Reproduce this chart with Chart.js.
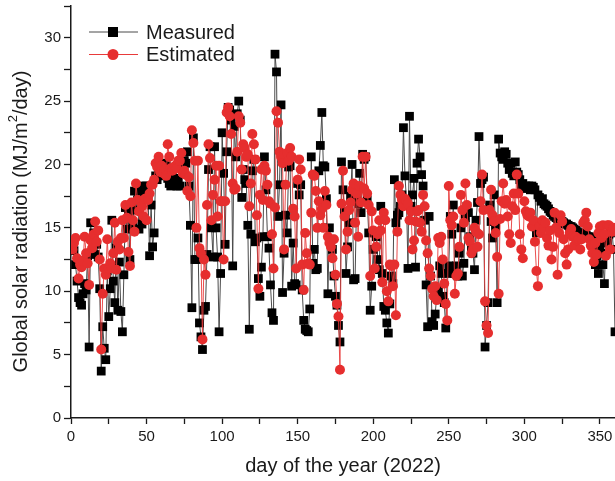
<!DOCTYPE html>
<html>
<head>
<meta charset="utf-8">
<title>Global solar radiation 2022</title>
<script src="https://cdn.jsdelivr.net/npm/chart.js@4.4.0/dist/chart.umd.min.js"></script>
<style>
  html, body { margin: 0; padding: 0; background: #fff; }
  #wrap { width: 615px; height: 481px; }
</style>
</head>
<body>
<div id="wrap"><canvas id="radChart" width="615" height="481"></canvas></div>
<script>
// daily global solar radiation, MJ/m2/day, day 1 .. 365
const measured = [
  13.5, 13.2, 12.1, 10.8, 9.5, 9.1, 8.9, 9.8, 10.6, 10.1,
  12.8, 5.6, 15.4, 13.2, 14.6, 12.9, 13.7, 12.7, 10.2, 3.7,
  7.2, 5.5, 4.6, 11.6, 8.0, 10.2, 15.6, 10.8, 9.1, 13.4,
  8.5, 12.3, 8.4, 6.8, 11.3, 16.6, 14.9, 16.2, 12.5, 16.8,
  15.1, 17.9, 16.4, 17.2, 14.9, 17.9, 15.3, 18.3, 17.6, 18.3,
  17.6, 12.8, 16.8, 13.5, 14.6, 19.1, 18.8, 19.5, 19.6, 19.1,
  20.1, 19.7, 19.9, 18.9, 18.5, 18.3, 19.2, 18.9, 18.4, 18.3,
  18.8, 18.3, 19.9, 20.1, 20.3, 20.1, 21.0, 18.3, 15.2, 8.7,
  22.1, 12.5, 12.5, 14.2, 7.5, 6.4, 5.4, 8.5, 8.8, 12.9,
  19.6, 21.4, 15.0, 12.7, 21.4, 15.0, 12.7, 6.8, 11.4, 22.5,
  19.3, 13.7, 21.0, 24.5, 24.3, 23.5, 12.0, 23.0, 20.6, 24.0,
  25.0, 23.5, 17.4, 19.6, 18.8, 18.5, 15.2, 7.0, 14.5, 19.5,
  20.4, 13.9, 14.2, 11.0, 9.6, 11.9, 14.3, 20.6, 18.0, 14.3,
  13.4, 10.5, 8.3, 7.7, 28.7, 27.3, 15.9, 18.4, 24.7, 9.9,
  13.0, 16.0, 14.6, 19.8, 19.9, 10.4, 13.8, 10.6, 10.5, 18.5,
  17.6, 18.4, 10.1, 7.7, 7.0, 6.9, 6.8, 8.6, 20.6, 12.2,
  13.3, 11.7, 11.8, 19.5, 21.5, 24.1, 19.9, 19.8, 17.3, 9.8,
  15.0, 14.1, 13.3, 11.2, 9.6, 8.9, 7.3, 6.0, 20.2, 18.0,
  16.3, 11.4, 13.5, 15.4, 17.5, 20.0, 10.9, 11.0, 17.2, 16.9,
  19.3, 16.2, 20.8, 20.4, 20.6, 17.2, 14.6, 8.5, 10.4, 13.3,
  14.6, 14.3, 12.5, 11.7, 16.7, 11.4, 8.8, 8.5, 7.5, 6.7,
  9.0, 11.2, 10.6, 18.8, 15.4, 16.0, 16.2, 16.7, 17.6, 22.9,
  19.1, 17.2, 11.8, 23.8, 16.7, 17.6, 18.9, 11.9, 20.1, 22.0,
  20.6, 19.2, 18.3, 15.6, 10.5, 7.2, 15.9, 11.2, 7.6, 7.3,
  8.2, 9.6, 10.1, 12.0, 11.4, 9.6, 9.1, 7.1, 11.4, 12.0,
  15.9, 14.5, 16.8, 11.4, 12.0, 11.2, 13.0, 15.0, 11.2, 12.2,
  15.8, 16.7, 16.2, 14.3, 13.3, 13.0, 11.7, 15.6, 17.0, 22.2,
  18.5, 18.8, 19.0, 5.6, 7.3, 9.1, 16.8, 15.5, 14.2, 17.6,
  15.1, 9.1, 22.0, 20.9, 20.6, 20.4, 21.0, 20.8, 20.1, 19.6,
  20.1, 19.3, 19.1, 20.2, 19.4, 19.2, 18.8, 18.3, 18.5, 18.2,
  18.3, 18.1, 18.3, 18.0, 18.3, 18.2, 18.0, 14.6, 17.6, 17.4,
  17.1, 17.3, 16.9, 16.8, 16.7, 16.5, 16.3, 16.2, 16.0, 15.9,
  15.8, 15.7, 15.6, 15.5, 15.5, 15.4, 15.3, 15.3, 15.2, 15.1,
  15.1, 15.0, 14.9, 14.8, 14.7, 14.6, 14.6, 14.5, 14.5, 14.4,
  14.4, 14.3, 14.3, 14.2, 14.1, 13.3, 12.1, 12.8, 11.4, 13.6,
  13.0, 12.1, 10.6, 14.2, 13.8, 14.5, 14.6, 14.8, 13.3, 6.8,
  12.8, 13.5, 14.0, 13.7, 14.1
];

const estimated = [
  13.3, 13.8, 14.2, 12.6, 11.0, 12.1, 11.9, 12.4, 14.3, 13.0,
  12.2, 10.5, 14.0, 13.4, 14.5, 15.5, 13.9, 14.8, 12.5, 5.4,
  9.8, 11.8, 11.3, 14.1, 11.8, 12.2, 11.8, 13.0, 15.4, 11.7,
  13.9, 13.3, 14.2, 15.6, 14.2, 16.8, 15.8, 13.1, 12.0, 17.0,
  15.6, 14.7, 18.5, 17.2, 16.3, 17.1, 16.7, 15.9, 17.3, 15.6,
  17.2, 17.7, 18.4, 18.4, 18.8, 20.1, 19.8, 20.6, 19.4, 19.9,
  19.3, 19.6, 19.1, 21.6, 20.6, 19.7, 19.5, 19.6, 19.9, 19.7,
  20.3, 20.3, 20.9, 19.3, 19.5, 19.2, 17.9, 19.0, 17.5, 22.7,
  21.7, 20.3, 15.0, 20.3, 13.4, 13.0, 6.2, 12.5, 11.3, 16.8,
  21.6, 20.5, 15.6, 17.6, 18.8, 19.9, 15.9, 19.9, 17.1, 17.1,
  12.5, 17.1, 24.1, 24.5, 23.8, 22.4, 18.5, 18.0, 18.1, 21.0,
  23.8, 23.3, 19.6, 21.6, 21.3, 20.6, 20.8, 16.7, 18.5, 22.4,
  21.6, 20.4, 16.0, 10.2, 17.6, 19.6, 17.2, 19.9, 19.5, 18.4,
  17.1, 16.9, 14.5, 11.8, 16.6, 24.2, 23.3, 21.0, 20.6, 20.1,
  13.3, 18.4, 20.9, 20.3, 21.3, 20.6, 16.5, 15.9, 11.8, 18.8,
  20.4, 19.6, 12.1, 10.1, 14.6, 13.0, 12.2, 12.1, 16.2, 19.2,
  19.1, 17.9, 15.0, 17.1, 16.0, 16.5, 15.0, 17.9, 16.8, 14.3,
  13.8, 13.5, 12.6, 14.1, 11.3, 9.0, 8.0, 3.8, 16.9, 19.5,
  15.9, 13.3, 14.7, 16.4, 17.0, 18.0, 18.5, 15.4, 17.7, 14.3,
  18.3, 17.0, 20.6, 18.1, 20.6, 17.7, 16.8, 11.2, 16.3, 14.8,
  11.8, 13.5, 14.5, 15.6, 14.8, 10.7, 16.2, 15.6, 10.0, 9.2,
  12.1, 12.0, 10.4, 12.1, 8.1, 14.7, 18.3, 17.6, 17.2, 16.7,
  17.3, 17.1, 16.9, 15.6, 16.3, 13.3, 14.0, 15.5, 16.3, 16.4,
  15.4, 14.7, 17.6, 16.7, 14.0, 13.0, 11.8, 11.2, 10.2, 9.6,
  10.4, 9.3, 14.2, 13.8, 14.3, 12.5, 10.6, 9.0, 7.7, 18.3,
  15.6, 15.2, 15.9, 9.8, 11.2, 11.4, 13.5, 17.6, 16.4, 15.4,
  18.5, 16.8, 14.2, 13.9, 13.0, 13.3, 15.0, 14.7, 13.5, 14.5,
  17.1, 19.2, 16.4, 9.2, 7.3, 6.7, 16.4, 18.0, 16.0, 15.5,
  14.6, 12.7, 9.8, 15.7, 17.1, 18.5, 16.9, 17.2, 15.9, 14.5,
  13.8, 16.7, 17.7, 16.4, 19.2, 17.7, 14.5, 13.3, 12.6, 17.1,
  16.3, 16.0, 15.9, 16.2, 15.1, 15.6, 13.9, 11.6, 10.4, 15.1,
  14.6, 15.6, 15.0, 15.4, 14.2, 13.6, 14.8, 12.5, 13.5, 16.2,
  15.0, 11.3, 14.6, 16.0, 15.5, 14.1, 13.0, 12.1, 13.3, 14.6,
  14.9, 14.3, 13.6, 14.3, 14.0, 14.1, 13.3, 14.1, 15.4, 15.6,
  16.2, 15.1, 14.1, 13.6, 13.0, 12.3, 13.8, 12.9, 14.6, 15.1,
  14.2, 15.2, 14.5, 12.8, 15.2, 15.2, 13.3, 14.7, 15.0, 14.8,
  13.9, 14.2, 14.5, 14.6, 14.3
];

const xTickStep = 25;   // minor ticks every 25 days, labels every 50
const yTickStep = 2.5;  // minor ticks every 2.5, labels every 5

const toPoints = arr => arr.map((v, i) => ({ x: i + 1, y: v }));

const FONT = '"Liberation Sans", Arial, Helvetica, sans-serif';
const INK = '#1a1a1a';

// legend drawn inside the plot, top-left, one row per series
const innerLegend = {
  id: 'innerLegend',
  afterDraw(chart) {
    const ctx = chart.ctx;
    ctx.save();
    chart.data.datasets.forEach((ds, i) => {
      const y = 32 + i * 22.5;
      ctx.strokeStyle = ds.borderColor;
      ctx.lineWidth = 1;
      ctx.beginPath();
      ctx.moveTo(89, y);
      ctx.lineTo(138, y);
      ctx.stroke();
      ctx.fillStyle = ds.pointBackgroundColor;
      ctx.beginPath();
      if (ds.pointStyle === 'rect') {
        ctx.rect(113 - 5, y - 5, 10, 10);
      } else {
        ctx.arc(113, y, 5.5, 0, Math.PI * 2);
      }
      ctx.fill();
      ctx.fillStyle = INK;
      ctx.font = '20px ' + FONT;
      ctx.textBaseline = 'middle';
      ctx.textAlign = 'left';
      ctx.fillText(ds.label, 146, y + 1);
    });
    ctx.restore();
  }
};

// rotated y axis title, with a raised "2" in the unit
const yAxisTitle = {
  id: 'yAxisTitle',
  afterDraw(chart) {
    const ctx = chart.ctx;
    const parts = [
      { text: 'Global solar radiation (MJ/m', size: 20, rise: 0 },
      { text: '2', size: 13, rise: 8 },
      { text: '/day)', size: 20, rise: 0 }
    ];
    ctx.save();
    ctx.fillStyle = INK;
    ctx.textBaseline = 'middle';
    ctx.textAlign = 'left';
    let total = 0;
    parts.forEach(p => {
      ctx.font = p.size + 'px ' + FONT;
      p.w = ctx.measureText(p.text).width;
      total += p.w;
    });
    ctx.translate(21.5, 221.5);
    ctx.rotate(-Math.PI / 2);
    let x = -total / 2;
    parts.forEach(p => {
      ctx.font = p.size + 'px ' + FONT;
      ctx.fillText(p.text, x, -p.rise);
      x += p.w;
    });
    ctx.restore();
  }
};

new Chart(document.getElementById('radChart'), {
  type: 'line',
  data: {
    datasets: [{
      label: 'Measured',
      data: toPoints(measured),
      borderColor: '#4a4a4a',
      borderWidth: 1,
      pointStyle: 'rect',
      pointRadius: 6.2,
      pointBackgroundColor: '#000',
      pointBorderWidth: 0,
      order: 2
    }, {
      label: 'Estimated',
      data: toPoints(estimated),
      borderColor: '#e83a3a',
      borderWidth: 0.9,
      pointStyle: 'circle',
      pointRadius: 5,
      pointBackgroundColor: '#e62e2e',
      pointBorderWidth: 0,
      order: 1
    }]
  },
  options: {
    responsive: false,
    animation: false,
    devicePixelRatio: 1,
    layout: { autoPadding: false, padding: { top: 6, right: 0, left: 0, bottom: 0 } },
    elements: { line: { tension: 0 } },
    plugins: {
      legend: { display: false },
      tooltip: { enabled: false }
    },
    scales: {
      x: {
        type: 'linear',
        min: 0,
        max: 360,
        afterFit: scale => {
          scale.height = 63;
          scale.paddingLeft = 0;
          scale.paddingRight = 0;
        },
        border: { display: true, color: INK, width: 1.5 },
        grid: { drawOnChartArea: false, drawTicks: true, tickLength: 6, tickColor: INK, tickWidth: 1.3 },
        ticks: {
          stepSize: xTickStep,
          includeBounds: false,
          autoSkip: false,
          maxRotation: 0,
          padding: 4,
          color: INK,
          font: { family: FONT, size: 15 },
          callback: v => (v % 50 === 0 ? v : '')
        },
        title: {
          display: true,
          text: 'day of the year (2022)',
          color: INK,
          font: { family: FONT, size: 20 },
          padding: { top: 0, bottom: 3 }
        }
      },
      y: {
        min: 0,
        max: 32.5,
        afterFit: scale => {
          scale.width = 71;
          scale.paddingTop = 0;
          scale.paddingBottom = 0;
        },
        border: { display: true, color: INK, width: 1.5 },
        grid: { drawOnChartArea: false, drawTicks: true, tickLength: 7, tickColor: INK, tickWidth: 1.3 },
        ticks: {
          stepSize: yTickStep,
          includeBounds: false,
          autoSkip: false,
          padding: 3,
          color: INK,
          font: { family: FONT, size: 15 },
          callback: v => (v % 5 === 0 ? v : '')
        },
        title: { display: false }
      }
    }
  },
  plugins: [innerLegend, yAxisTitle]
});
</script>
</body>
</html>
